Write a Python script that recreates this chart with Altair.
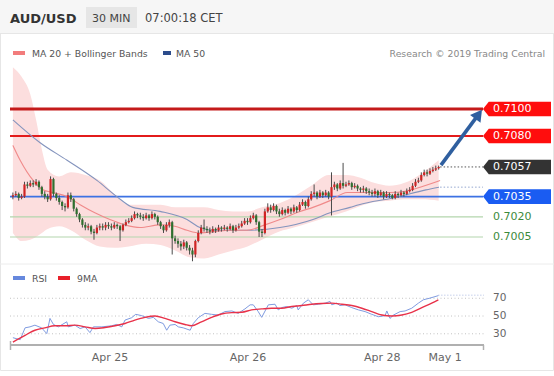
import math
import altair as alt
import pandas as pd

FONT = "DejaVu Sans"
W, H = 554, 376

# ---------------- data (prices in pips above 0.7000, 1 pip = 0.0001) ----------------
first_open_pips = 35
close_pips = [
    36, 37, 34, 35, 44, 43, 45, 44, 46, 42,
    37, 35, 33, 48, 37, 34, 31, 28, 27, 36,
    33, 26, 22, 18, 14, 12, 13, 9, 8, 12,
    13, 12, 14, 13, 12, 14, 13, 10, 14, 16,
    17, 19, 22, 21, 20, 19, 21, 19, 22, 20,
    16, 13, 10, 14, 16, 4, 2, 0, -2, 1,
    -3, -5, -8, 2, 8, 12, 11, 10, 9, 11,
    10, 12, 11, 12, 11, 13, 10, 12, 13, 15,
    17, 16, 19, 21, 16, 9, 8, 24, 27, 25,
    28, 24, 22, 25, 23, 26, 24, 27, 25, 29,
    31, 28, 33, 37, 38, 35, 38, 36, 38, 35,
    42, 44, 41, 45, 43, 44, 45, 42, 43, 41,
    40, 41, 39, 38, 37, 39, 36, 38, 35, 37,
    36, 34, 37, 36, 38, 37, 39, 40, 43, 46,
    47, 51, 53, 52, 54, 55, 56, 57]
high_pips = [
    38, 39, 38, 37, 46, 46, 47, 47, 48, 47,
    43, 39, 37, 50, 49, 38, 36, 32, 30, 38,
    38, 34, 27, 23, 19, 16, 15, 14, 11, 14,
    15, 15, 16, 16, 15, 16, 15, 14, 15, 18,
    19, 21, 24, 23, 23, 22, 23, 22, 24, 23,
    21, 17, 14, 16, 18, 17, 6, 4, 2, 3,
    2, -1, -3, 3, 10, 14, 18, 13, 12, 13,
    12, 14, 13, 14, 13, 15, 14, 14, 15, 17,
    19, 19, 21, 23, 22, 17, 11, 26, 30, 29,
    30, 29, 26, 27, 26, 28, 27, 29, 28, 31,
    33, 32, 35, 39, 44, 39, 40, 39, 40, 39,
    53, 46, 45, 47, 60, 46, 47, 46, 45, 44,
    42, 43, 42, 41, 40, 41, 40, 40, 39, 39,
    38, 37, 39, 38, 40, 39, 41, 42, 45, 48,
    49, 53, 55, 55, 56, 57, 58, 58]
low_pips = [
    33, 35, 32, 33, 34, 41, 42, 42, 43, 40,
    35, 33, 31, 32, 35, 32, 29, 25, 24, 26,
    31, 24, 20, 16, 12, 10, 10, 7, 3, 7,
    10, 10, 10, 11, 10, 11, 11, 2, 9, 13,
    15, 16, 18, 19, 18, 17, 18, 17, 18, 18,
    14, 11, 8, 9, 12, -8, 0, -3, -5, -4,
    -5, -8, -13, -10, 1, 7, 9, 8, 7, 8,
    8, 9, 9, 10, 9, 10, 8, 9, 11, 12,
    14, 14, 15, 18, 14, 5, 5, 7, 23, 23,
    24, 22, 20, 21, 21, 22, 22, 23, 23, 24,
    28, 26, 27, 32, 35, 33, 34, 34, 35, 33,
    21, 40, 39, 40, 41, 42, 43, 40, 41, 39,
    38, 38, 37, 36, 35, 35, 34, 35, 33, 34,
    34, 33, 33, 34, 35, 35, 36, 38, 39, 42,
    45, 46, 50, 50, 51, 53, 54, 55]

band_bars = [0, 3, 6, 8, 10, 12, 16, 20, 25, 30, 35, 40, 46, 51, 56, 61,
             66, 71, 76, 81, 86, 92, 97, 103, 109, 115, 120, 125, 130, 135, 141, 147]
band_upper_pips = [131, 124, 111, 92, 70, 55, 50, 53, 51, 47, 37, 29, 29, 29, 27, 27,
                   27, 25, 24, 24, 27, 30, 35, 43, 51, 51, 49, 45, 43, 45, 52, 62]
band_lower_pips = [8, 2, 3, 5, 8, 11, 13, 10, 3, -2, -3, -2, 0, -1, -5, -10,
                   -11, -8, -5, -2, 3, 9, 12, 16, 20, 24, 28, 31, 32, 33, 33, 32]

ma20_bars = [0, 2.5, 7, 10.4, 13.8, 18.7, 23.2, 28.3, 33.5, 38.7, 43.9, 50.8, 55.9, 60.1, 64.6,
             69.8, 74.9, 80.8, 87, 92.2, 99.1, 103.6, 109.5, 115.4, 119.9, 125, 130.2, 135.4, 140.6, 147.5]
ma20_pips = [73, 62, 47, 40, 38, 35, 29, 23, 18, 14, 12, 14, 13, 10, 8,
             9, 10, 10, 14, 18, 24, 27, 32, 38, 38, 38, 38, 39, 42, 47]

ma50_bars = [0, 9.4, 18.7, 29, 35.9, 41.4, 50.8, 60.1, 64.6, 69.1, 80.8, 92.2, 103.6,
             109.5, 116.4, 119.5, 131.3, 142.6, 147.1]
ma50_pips = [92, 75, 62, 47, 35, 27, 24, 18, 12, 10, 10, 12, 18, 23, 27, 29, 34, 40, 42]

rsi_bars = [0, 2.5, 4.2, 5.9, 7.6, 9.9, 11.7, 12.8, 14, 15.7, 18.6, 19.1, 21.4, 23.2, 24.9,
            26.6, 27.8, 30.7, 34.1, 35.8, 37.6, 38.7, 41, 42.4, 44.5, 46.8, 48.5, 50.2, 51.9,
            53.1, 54.2, 56, 57.1, 58.8, 61.2, 62.3, 64, 66.3, 68.6, 70.9, 73.2, 75.6, 77.8,
            80.1, 81.9, 83, 84.7, 85.9, 88.2, 90.5, 91.6, 92.8, 94.5, 96.3, 98, 98.5, 100.3,
            102, 103.7, 105.5, 107.8, 109.5, 110.1, 111.8, 112.9, 114.7, 117, 119.3, 121.6,
            123.9, 126.2, 128.5, 129.1, 130.2, 131.4, 133.7, 135.4, 137.7, 140, 141.7, 144, 146.9]
rsi_vals = [25.6, 23.3, 36.7, 37.8, 39.7, 36.7, 30.2, 47.3, 40.5, 37.8, 43.5, 37.8, 39.7, 35.9,
            37.8, 31.3, 37.8, 37.8, 39, 40.5, 37.8, 45.4, 48.1, 51.9, 50.4, 47.3, 48.5, 43.5,
            41.6, 34, 39.7, 40.5, 37.8, 36.7, 34, 41.6, 48.1, 53, 51.9, 51.1, 55, 55.7, 53, 58,
            62.6, 62.6, 55, 48.5, 62.6, 63.3, 56.9, 59.5, 60.7, 58.8, 61.8, 56.9, 64.5, 68.3,
            62.6, 63.3, 64.5, 66.4, 62.6, 64.5, 61.8, 62.6, 59.5, 56.9, 55, 51.9, 49.2, 50.4,
            55.7, 47.3, 51.1, 55, 55.7, 58.8, 64.5, 68.3, 70.2, 73]
rsi_ma_bars = [0, 4.2, 7.6, 11, 14.5, 18, 21.4, 24.9, 28.4, 31.8, 35.3, 38.7, 42.1, 45.6, 49.1,
               52.5, 56, 59.4, 61.6, 65.1, 68.6, 72, 75.6, 79, 82.4, 85.9, 89.3, 92.8, 96.3,
               99.7, 103.2, 106.6, 110.1, 113.6, 117, 120.5, 123.9, 127.4, 130.8, 134.3, 137.7,
               141.2, 144.6, 146.9]
rsi_ma_vals = [20.7, 28.3, 34, 36.7, 39, 39, 39.7, 37.8, 35.9, 37, 39, 41.6, 45.4, 48.5, 50,
               47.3, 43.5, 40.5, 39, 43.5, 48.5, 52.3, 53.8, 54.2, 56.9, 58, 58.8, 58.8, 60.7,
               61.8, 63.3, 64.1, 64.5, 63.3, 61.8, 58.8, 55, 51.1, 50, 51.1, 54.2, 59.5, 64.5, 68.3]

resistance_prices = [0.7100, 0.7080]
resistance_labels = ["0.7100", "0.7080"]
pivot_price, pivot_label = 0.7035, "0.7035"
support_prices = [0.7020, 0.7005]
support_labels = ["0.7020", "0.7005"]
last_price, last_label = 0.7057, "0.7057"
ma50_last_price = 0.7042
rsi_last = 73.5
rsi_levels = [70, 50, 30]
date_tick_bars = [33.5, 81.2, 127.5, 149.2]
date_tick_labels = ["Apr 25", "Apr 26", "Apr 28", "May 1"]
arrow_start = (147.8, 0.70584)
arrow_tip = (162.0, 0.70995)

# ---------------- scales ----------------
XD, XR = [0, 164], [12.9, 487.9]
PD, PR = [0.6986, 0.7132], [262.6, 65.9]
xs = alt.Scale(domain=XD, range=XR, nice=False, zero=False)
ps = alt.Scale(domain=PD, range=PR, nice=False, zero=False)
rs = alt.Scale(domain=[16, 80], range=[346.2, 289.4], nice=False, zero=False)


def pr(v):
    return round(0.7 + v / 10000.0, 5)


def X(f="bar"):
    return alt.X(f"{f}:Q", scale=xs, axis=None)


def PY(f="price"):
    return alt.Y(f"{f}:Q", scale=ps, axis=None)


def RY(f="rsi"):
    return alt.Y(f"{f}:Q", scale=rs, axis=None)


one = pd.DataFrame({"k": [0]})
layers = []


def rect(x1, x2, y1, y2, **kw):
    return alt.Chart(one).mark_rect(**kw).encode(
        x=alt.value(x1), x2=alt.value(x2), y=alt.value(y1), y2=alt.value(y2))


def hrule(x1, x2, y, **kw):
    return alt.Chart(one).mark_rule(**kw).encode(
        x=alt.value(x1), x2=alt.value(x2), y=alt.value(y))


def text(t, x, y, size, color, weight="normal", align="left", baseline="alphabetic"):
    return alt.Chart(one).mark_text(
        text=t, fontSize=size, color=color, font=FONT, fontWeight=weight,
        align=align, baseline=baseline).encode(x=alt.value(x), y=alt.value(y))


# ---------------- frame & header ----------------
layers += [
    rect(0, W, 0, 33, color="#f6f6f6"),
    hrule(0, W, 33.5, color="#e6e6e6", strokeWidth=1),
    rect(0.5, W - 0.5, 33.5, 370.5, fillOpacity=0, stroke="#e6e6e6", strokeWidth=1),
    hrule(0, W, 264, color="#ececec", strokeWidth=1),
    rect(86, 137, 7, 28, color="#e6e6e6"),
    text("AUD/USD", 10, 23, 13, "#333333", weight="bold"),
    text("30 MIN", 92, 22, 11, "#444444"),
    text("07:00:18 CET", 145, 22, 11.5, "#444444"),
    rect(13, 25, 51, 55, color="#f27c7c"),
    text("MA 20 + Bollinger Bands", 32, 57, 9.3, "#555555"),
    rect(163, 171, 51, 55, color="#2c4c8c"),
    text("MA 50", 176, 57, 9.3, "#555555"),
    text("Research \u00a9 2019 Trading Central", 545, 57, 9.3, "#888888", align="right"),
]

# ---------------- price panel ----------------
band = pd.DataFrame({"bar": band_bars,
                     "upper": [pr(v) for v in band_upper_pips],
                     "lower": [pr(v) for v in band_lower_pips]})
layers.append(alt.Chart(band).mark_area(color="#fcdede", interpolate="monotone").encode(
    x=X(), y=PY("upper"), y2=alt.Y2("lower:Q")))

level_styles = [
    (resistance_prices[0], "#c41a1a", 3),
    (resistance_prices[1], "#e31b1b", 2),
    (pivot_price, "#3d72e3", 1.6),
    (support_prices[0], "#b3d6ad", 1.2),
    (support_prices[1], "#b3d6ad", 1.2),
]
for price, col, w in level_styles:
    layers.append(alt.Chart(pd.DataFrame({"price": [price]})).mark_rule(
        color=col, strokeWidth=w).encode(x=alt.value(10), x2=alt.value(483), y=PY()))

ma20 = pd.DataFrame({"bar": ma20_bars, "price": [pr(v) for v in ma20_pips]})
ma50 = pd.DataFrame({"bar": ma50_bars, "price": [pr(v) for v in ma50_pips]})
layers.append(alt.Chart(ma50).mark_line(color="#8494bd", strokeWidth=1.1, interpolate="monotone")
              .encode(x=X(), y=PY()))
layers.append(alt.Chart(ma20).mark_line(color="#f08a8a", strokeWidth=1.1, interpolate="monotone")
              .encode(x=X(), y=PY()))

opens = [first_open_pips] + close_pips[:-1]
candles = pd.DataFrame({
    "bar": list(range(len(close_pips))),
    "open": [pr(v) for v in opens],
    "close": [pr(v) for v in close_pips],
    "high": [pr(v) for v in high_pips],
    "low": [pr(v) for v in low_pips],
})
layers.append(alt.Chart(candles).mark_rule(color="#4a4a4a", strokeWidth=1).encode(
    x=X(), y=PY("high"), y2=alt.Y2("low:Q")))
layers.append(alt.Chart(candles).mark_rule(strokeWidth=2.2).encode(
    x=X(), y=PY("open"), y2=alt.Y2("close:Q"),
    color=alt.condition("datum.close > datum.open", alt.value("#d02424"), alt.value("#2f6f2f"))))

last_bar = len(close_pips) - 1
layers.append(alt.Chart(pd.DataFrame({"bar": [last_bar + 0.5], "price": [last_price]}))
              .mark_rule(color="#555555", strokeWidth=1, strokeDash=[1.5, 2]).encode(
    x=X(), x2=alt.value(483), y=PY()))
layers.append(alt.Chart(pd.DataFrame({"bar": [last_bar + 0.5], "price": [ma50_last_price]}))
              .mark_rule(color="#93a6cf", strokeWidth=1, strokeDash=[1.5, 2]).encode(
    x=X(), x2=alt.value(483), y=PY()))


# arrow towards the 0.7100 target
def to_px(b, p):
    px = XR[0] + (XR[1] - XR[0]) * (b - XD[0]) / (XD[1] - XD[0])
    py = PR[0] + (PR[1] - PR[0]) * (p - PD[0]) / (PD[1] - PD[0])
    return px, py


def to_data(px, py):
    b = XD[0] + (px - XR[0]) * (XD[1] - XD[0]) / (XR[1] - XR[0])
    p = PD[0] + (py - PR[0]) * (PD[1] - PD[0]) / (PR[1] - PR[0])
    return b, p


sx, sy = to_px(*arrow_start)
tx, ty = to_px(*arrow_tip)
L = math.hypot(tx - sx, ty - sy)
ux, uy = (tx - sx) / L, (ty - sy) / L
head = 13.0
cx, cy = tx - ux * head * 0.45, ty - uy * head * 0.45
ex, ey = tx - ux * head * 0.6, ty - uy * head * 0.6
end_b, end_p = to_data(ex, ey)
head_b, head_p = to_data(cx, cy)
angle = math.degrees(math.atan2(ux, -uy)) % 360
arrow_df = pd.DataFrame({"bar": [arrow_start[0], end_b], "price": [arrow_start[1], end_p]})
layers.append(alt.Chart(arrow_df).mark_line(color="#2f5f9f", strokeWidth=3.6, strokeCap="butt")
              .encode(x=X(), y=PY()))
layers.append(alt.Chart(pd.DataFrame({"bar": [head_b], "price": [head_p]})).mark_point(
    shape="triangle-up", size=head * head, angle=angle, filled=True, opacity=1,
    color="#2f5f9f", strokeWidth=0).encode(x=X(), y=PY()))

# price tags
TAG = "M-1,0L-0.83,-0.215L1,-0.215L1,0.215L-0.83,0.215Z"
tags = [
    (resistance_prices[0], resistance_labels[0], "#ff0d0d"),
    (resistance_prices[1], resistance_labels[1], "#ff0d0d"),
    (last_price, last_label, "#333333"),
    (pivot_price, pivot_label, "#1a5cf2"),
]
for price, lab, col in tags:
    d = pd.DataFrame({"price": [price], "label": [lab]})
    layers.append(alt.Chart(d).mark_point(shape=TAG, size=68 * 68, filled=True, opacity=1,
                                          fill=col, strokeWidth=0)
                  .encode(x=alt.value(517), y=PY()))
    layers.append(alt.Chart(d).mark_text(align="left", baseline="middle", color="white",
                                         fontSize=11, font=FONT)
                  .encode(x=alt.value(493), y=PY(), text="label:N"))
for price, lab in zip(support_prices, support_labels):
    d = pd.DataFrame({"price": [price], "label": [lab]})
    layers.append(alt.Chart(d).mark_text(align="left", baseline="middle", color="#3c8a3c",
                                         fontSize=11, font=FONT)
                  .encode(x=alt.value(493), y=PY(), text="label:N"))

# ---------------- RSI panel ----------------
layers += [
    rect(13, 25, 276, 280, color="#6688dd"),
    text("RSI", 32, 282, 9.3, "#555555"),
    rect(58, 70, 276, 280, color="#e8202a"),
    text("9MA", 77, 282, 9.3, "#555555"),
]
lev = pd.DataFrame({"rsi": rsi_levels})
layers.append(alt.Chart(lev).mark_rule(color="#c4c4c4", strokeWidth=1, strokeDash=[1, 2.5])
              .encode(x=alt.value(10), x2=alt.value(484), y=RY()))
layers.append(alt.Chart(lev).mark_text(align="left", baseline="middle", color="#666666",
                                       fontSize=10.5, font=FONT)
              .encode(x=alt.value(493), y=RY(), text="rsi:N"))
layers.append(alt.Chart(pd.DataFrame({"bar": [rsi_bars[-1]], "rsi": [rsi_last]}))
              .mark_rule(color="#a9b8e0", strokeWidth=1, strokeDash=[1, 2]).encode(
    x=X(), x2=alt.value(484), y=RY()))
rsi_df = pd.DataFrame({"bar": rsi_bars, "rsi": rsi_vals})
rsi_ma_df = pd.DataFrame({"bar": rsi_ma_bars, "rsi": rsi_ma_vals})
layers.append(alt.Chart(rsi_df).mark_line(color="#7f9be0", strokeWidth=1).encode(x=X(), y=RY()))
layers.append(alt.Chart(rsi_ma_df).mark_line(color="#e8324a", strokeWidth=1.4, interpolate="monotone")
              .encode(x=X(), y=RY()))
layers += [
    hrule(10, 484, 345, color="#b0b0b0", strokeWidth=2),
    alt.Chart(one).mark_rule(color="#b0b0b0", strokeWidth=1.5).encode(
        x=alt.value(10.5), y=alt.value(341), y2=alt.value(350)),
    alt.Chart(one).mark_rule(color="#b0b0b0", strokeWidth=1.5).encode(
        x=alt.value(483.5), y=alt.value(345), y2=alt.value(350)),
]
dates = pd.DataFrame({"bar": date_tick_bars, "label": date_tick_labels})
layers.append(alt.Chart(dates).mark_text(align="center", baseline="middle", color="#666666",
                                         fontSize=11, font=FONT)
              .encode(x=X(), y=alt.value(358), text="label:N"))

chart = alt.layer(*layers).resolve_scale(y="independent").properties(
    width=W, height=H, padding=0, autosize=alt.AutoSizeParams(type="none"),
    background="white",
).configure_view(strokeWidth=0)

chart.save("out.html", embed_options={"renderer": "svg", "actions": False})
